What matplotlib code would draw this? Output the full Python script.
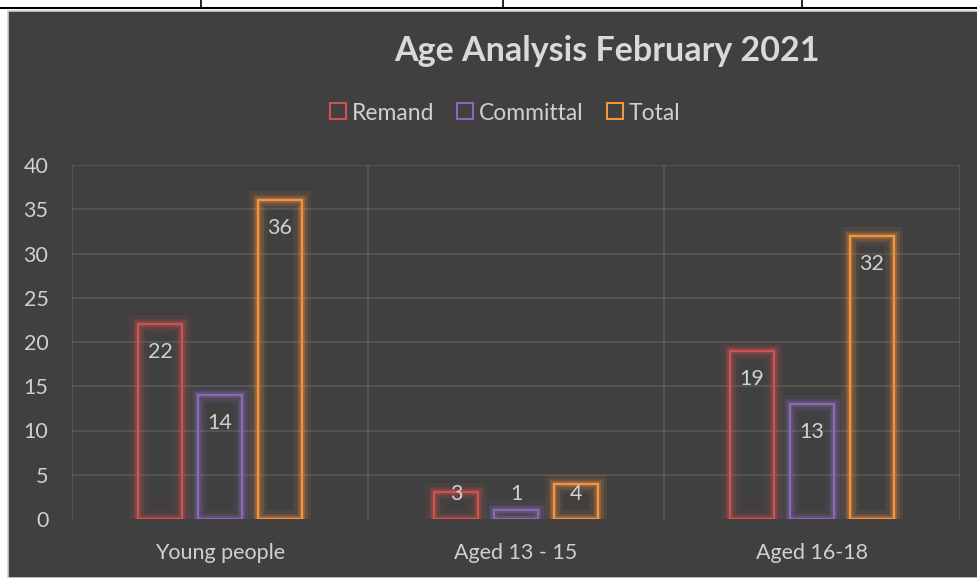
import matplotlib
matplotlib.use("Agg")
import matplotlib.pyplot as plt
import matplotlib.patheffects as pe
from matplotlib.lines import Line2D
from matplotlib.patches import Rectangle
import numpy as np

categories = ["Young people", "Aged 13 - 15", "Aged 16-18"]
series_names = ["Remand", "Committal", "Total"]
remand = [22, 3, 19]
committal = [14, 1, 13]
total = [36, 4, 32]
yticks = [0, 5, 10, 15, 20, 25, 30, 35, 40]
title = "Age Analysis February 2021"

colors = ["#d0524f", "#8a6bb3", "#f7953f"]
bg = "#404040"
txt = "#d0d0d0"
grid = "#585858"
font = "Lato"

W, H = 978, 578
fig = plt.figure(figsize=(W / 100, H / 100), dpi=100, facecolor="white")

# surrounding page bits
fig.add_artist(Rectangle((8 / W, 0), 1, 1 - 11 / H, transform=fig.transFigure,
                         facecolor=bg, edgecolor="#cfcfcf", linewidth=1.2, zorder=0))
fig.add_artist(Line2D([0, 1], [1 - 8 / H, 1 - 8 / H], transform=fig.transFigure,
                      color="black", linewidth=1.5))
for xv in [201, 503, 802]:
    fig.add_artist(Line2D([xv / W, xv / W], [1 - 8 / H, 1], transform=fig.transFigure,
                          color="black", linewidth=1.2))

ax = fig.add_axes([72 / W, 59 / H, (960 - 72) / W, 354 / H])
ax.set_facecolor("none")
ax.set_xlim(-0.5, 2.5)
ax.set_ylim(0, 40)
for s in ax.spines.values():
    s.set_visible(False)

for yv in yticks[1:]:
    ax.axhline(yv, color=grid, linewidth=1.2, zorder=1)
for xv in [-0.5, 0.5, 1.5, 2.5]:
    ax.plot([xv, xv], [0, 40], color=grid, linewidth=1.2, zorder=1)

x = np.arange(len(categories))
offsets = [-0.2027, 0.0, 0.2027]
width = 0.149
for vals, off, col in zip([remand, committal, total], offsets, colors):
    bars = ax.bar(x + off, vals, width, facecolor="none", edgecolor=col,
                  linewidth=1.6, zorder=3)
    for b in bars:
        b.set_path_effects([
            pe.Stroke(linewidth=13, foreground=col, alpha=0.08),
            pe.Stroke(linewidth=8, foreground=col, alpha=0.15),
            pe.Stroke(linewidth=4.5, foreground=col, alpha=0.28),
            pe.Normal(),
        ])
    for xi, v in zip(x + off, vals):
        ax.text(xi, max(v - 3.16, 2.82), str(v), ha="center", va="center",
                color=txt, fontsize=15.5, family=font, zorder=4)

ax.set_yticks(yticks)
ax.set_yticklabels([str(t) for t in yticks])
ax.set_xticks(x)
ax.set_xticklabels(categories)
ax.tick_params(axis="y", length=0, pad=17, labelsize=15.5, labelcolor=txt)
ax.tick_params(axis="x", length=0, pad=17, labelsize=15.5, labelcolor=txt)
for lab in ax.get_xticklabels() + ax.get_yticklabels():
    lab.set_family(font)

fig.text(607 / W, 1 - 51 / H, title, ha="center", va="center", color="#d9d9d9",
         fontsize=24.5, fontweight="bold", family=font)

handles = [Line2D([], [], marker="s", linestyle="none", markersize=11,
                  markerfacecolor="none", markeredgecolor=c, markeredgewidth=1.5)
           for c in colors]
leg = fig.legend(handles, series_names, loc="center", bbox_to_anchor=(504 / W, 1 - 113 / H),
                 ncol=3, frameon=False, handletextpad=0.15, columnspacing=0.9,
                 prop={"family": font, "size": 16.5}, labelcolor=txt, handlelength=0.9)

fig.savefig("out.png", dpi=100, facecolor="white")
